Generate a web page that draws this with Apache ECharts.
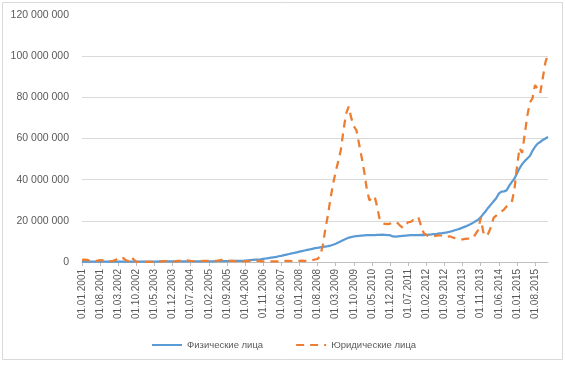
<!DOCTYPE html>
<html>
<head>
<meta charset="utf-8">
<script src="https://cdn.jsdelivr.net/npm/echarts@6/dist/echarts.min.js"></script>
<style>html,body{margin:0;padding:0;background:#fff}#c{width:565px;height:365px}</style>
</head>
<body>
<div id="c"></div>
<script>
// Monthly dates 01.01.2001 .. 01.01.2016
const startYear = 2001;
const monthCount = 181;
const categories = [];
for (let i = 0; i < monthCount; i++) {
  const m = (i % 12) + 1;
  const y = startYear + Math.floor(i / 12);
  categories.push('01.' + (m < 10 ? '0' + m : m) + '.' + y);
}

const seriesNames = ['Физические лица', 'Юридические лица'];

// values in millions
const physical = [
  // 2001
  0.2,0.2,0.2,0.2,0.2,0.2,0.2,0.2,0.2,0.2,0.2,0.2,
  // 2002
  0.2,0.2,0.2,0.2,0.2,0.2,0.2,0.2,0.2,0.2,0.2,0.2,
  // 2003
  0.2,0.2,0.2,0.2,0.2,0.2,0.25,0.25,0.25,0.25,0.25,0.25,
  // 2004
  0.3,0.3,0.3,0.3,0.3,0.3,0.3,0.3,0.3,0.3,0.3,0.3,
  // 2005
  0.3,0.3,0.35,0.35,0.4,0.4,0.4,0.45,0.45,0.45,0.5,0.5,
  // 2006
  0.5,0.6,0.6,0.7,0.8,0.9,1.0,1.1,1.2,1.3,1.5,1.7,
  // 2007
  1.9,2.1,2.3,2.5,2.8,3.0,3.3,3.6,3.9,4.2,4.4,4.7,
  // 2008
  5.0,5.3,5.6,5.9,6.1,6.4,6.7,6.9,7.1,7.3,7.5,7.7,
  // 2009
  8.0,8.4,8.9,9.5,10.1,10.7,11.3,11.8,12.1,12.4,12.6,12.7,
  // 2010
  12.8,12.9,13.0,13.0,13.1,13.1,13.2,13.2,13.3,13.2,13.1,13.0,
  // 2011
  12.4,12.3,12.5,12.6,12.7,12.8,12.9,13.0,13.0,13.1,13.1,13.2,
  // 2012
  13.1,13.2,13.3,13.4,13.6,13.7,13.9,14.0,14.2,14.4,14.7,15.0,
  // 2013
  15.4,15.8,16.2,16.7,17.2,17.7,18.3,19.0,19.8,20.6,21.7,23.3,
  // 2014
  24.8,26.5,28.0,29.5,31.0,33.2,34.2,34.3,34.8,37.0,38.8,40.5,
  // 2015
  43.0,45.5,47.5,49.0,50.3,51.5,54.0,56.0,57.5,58.3,59.3,60.0,
  // 2016
  60.8
];

const legal = [
  // 2001
  1.0,1.1,1.0,0.6,0.3,0.4,0.7,0.9,0.8,0.5,0.3,0.4,
  // 2002
  0.6,1.0,1.8,1.2,1.9,0.8,0.4,2.5,1.2,0.1,0.1,0.1,
  // 2003
  0.1,0.1,0.1,0.1,0.1,0.2,0.2,0.3,0.4,0.4,0.3,0.2,
  // 2004
  0.3,0.5,0.6,0.8,0.8,0.7,0.5,0.4,0.3,0.3,0.4,0.5,
  // 2005
  0.6,0.6,0.5,0.5,0.6,0.8,1.0,1.0,0.8,0.6,0.5,0.4,
  // 2006
  0.3,0.3,0.3,0.3,0.4,0.4,0.5,0.5,0.5,0.4,0.3,0.3,
  // 2007
  0.3,0.3,0.3,0.3,0.3,0.4,0.5,0.6,0.5,0.4,0.4,0.5,
  // 2008
  0.6,0.7,0.6,0.6,0.7,0.9,1.2,1.5,3.0,8.0,16.0,22.8,
  // 2009
  31.0,38.0,44.0,49.0,54.5,64.0,72.0,75.5,70.0,66.0,64.0,57.5,
  // 2010
  51.0,44.0,35.5,30.0,31.0,32.0,27.0,20.5,19.0,18.5,18.4,18.6,
  // 2011
  19.2,19.5,18.8,17.5,16.5,18.0,19.4,19.5,20.4,20.0,21.4,17.5,
  // 2012
  14.0,13.1,12.5,12.3,12.5,12.8,13.0,12.8,12.3,12.2,12.5,12.0,
  // 2013
  11.6,11.3,11.0,11.0,11.2,11.3,11.5,11.5,13.5,15.5,21.5,14.5,
  // 2014
  12.5,14.0,17.0,21.5,22.5,23.5,24.5,25.5,27.0,28.0,29.0,35.0,
  // 2015
  46.0,55.5,53.0,62.0,71.0,77.5,79.5,86.0,84.0,82.0,89.5,97.0,
  // 2016
  101.0
];

const yTicks = { min: 0, max: 120000000, interval: 20000000 };
const MILLION = 1000000;

const fmt = v => String(v).replace(/\B(?=(\d{3})+(?!\d))/g, ' ');
const font = 'Liberation Sans';

const chart = echarts.init(document.getElementById('c'), null, { renderer: 'canvas' });
chart.setOption({
  animation: false,
  backgroundColor: '#ffffff',
  textStyle: { fontFamily: font },
  grid: { left: 82, right: 17, top: 15, bottom: 103, containLabel: false },
  graphic: [{
    type: 'rect', left: 0, top: 0, z: -10,
    shape: { x: 0.5, y: 0.5, width: 560, height: 357 },
    style: { fill: 'none', stroke: '#D9D9D9', lineWidth: 1 }
  }],
  legend: {
    data: seriesNames,
    left: 146, top: 335,
    itemWidth: 30, itemHeight: 8, itemGap: 32,
    itemStyle: { opacity: 0 },
    textStyle: { fontFamily: font, fontSize: 9.5, color: '#595959' }
  },
  xAxis: {
    type: 'category',
    data: categories,
    boundaryGap: false,
    axisLine: { show: true, lineStyle: { color: '#BFBFBF', width: 1 } },
    axisTick: { show: true, interval: 6, length: 4, lineStyle: { color: '#BFBFBF' } },
    axisLabel: { interval: 6, rotate: 90, margin: 7, fontFamily: font, fontSize: 10, color: '#595959' },
    splitLine: { show: false }
  },
  yAxis: {
    type: 'value',
    min: yTicks.min, max: yTicks.max, interval: yTicks.interval,
    axisLine: { show: false },
    axisTick: { show: false },
    axisLabel: { margin: 13, fontFamily: font, fontSize: 10.5, color: '#595959', formatter: fmt },
    splitLine: { show: true, showMaxLine: false, lineStyle: { color: '#D9D9D9', width: 1 } }
  },
  series: [
    {
      name: seriesNames[0], type: 'line', symbol: 'none', smooth: false,
      data: physical.map(v => v * MILLION),
      lineStyle: { color: '#5B9BD5', width: 2.25 },
      itemStyle: { color: '#5B9BD5' },
      z: 2
    },
    {
      name: seriesNames[1], type: 'line', symbol: 'none', smooth: false,
      data: legal.map(v => v * MILLION),
      lineStyle: { color: '#ED7D31', width: 2.25, type: [8, 6] },
      itemStyle: { color: '#ED7D31' },
      z: 3
    }
  ]
});
</script>
</body>
</html>
